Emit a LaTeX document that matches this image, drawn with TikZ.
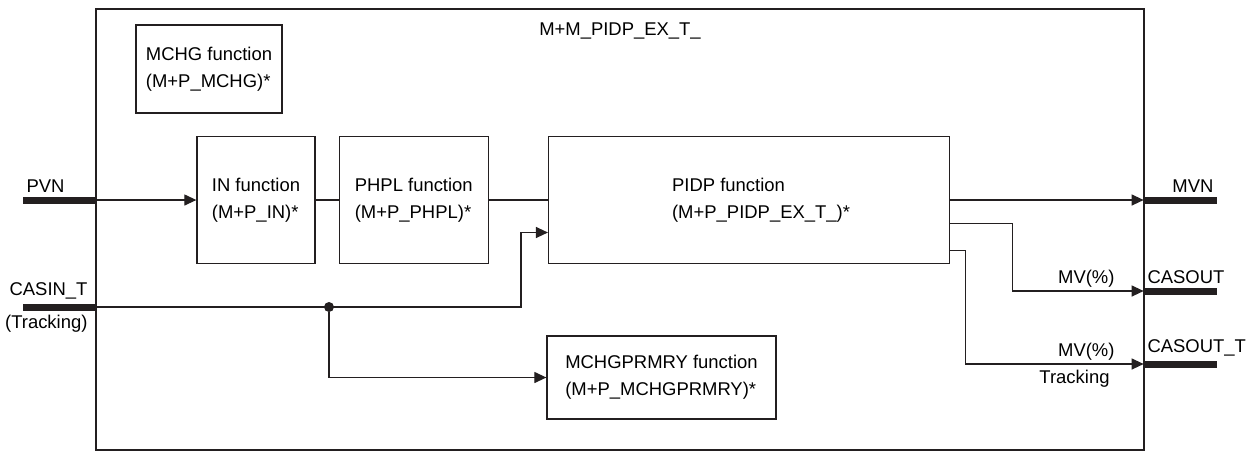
\documentclass[tikz,border=0pt]{standalone}
\usepackage{fontspec}
\setmainfont{Liberation Sans}
\usepackage{tikz}
\usetikzlibrary{arrows.meta,positioning}
\definecolor{Ink}{HTML}{231F20}

\begin{document}
\begin{tikzpicture}[
  x=0.02cm, y=-0.02cm,
  font=\fontsize{10.5}{15.4}\selectfont,
  frame/.style={draw=Ink, line width=0.9pt, minimum width=20.96cm, minimum height=8.82cm, inner sep=0},
  fn/.style={draw=Ink, line width=0.75pt, align=left, inner sep=0, minimum height=2.54cm},
  bus/.style={fill=Ink, minimum width=1.46cm, minimum height=1.4mm, inner sep=0},
  dot/.style={circle, fill=Ink, minimum size=2mm, inner sep=0},
  tag/.style={inner sep=2pt},
  wire/.style={draw=Ink, line width=0.7pt},
  arrow/.style={-{Triangle[length=2.4mm, width=2.2mm]}, line width=0.7pt, draw=Ink}
]
\useasboundingbox (0,0) rectangle (1254,451);

\node[frame] (blk) at (620,229.5) {};
\node (title) at (620,31) {M+M\_PIDP\_EX\_T\_};

\node[fn, minimum width=2.92cm, minimum height=1.76cm] (mchg) at (209,69) {MCHG function\\(M+P\_MCHG)*};
\node[fn, minimum width=2.36cm] (in) at (256,200) {IN function\\(M+P\_IN)*};
\node[fn, minimum width=2.98cm, right=0.46cm of in] (phpl) {PHPL function\\(M+P\_PHPL)*};
\node[fn, minimum width=8.02cm, right=1.18cm of phpl] (pidp)
  {\hspace*{0.48cm}PIDP function\\\hspace*{0.48cm}(M+P\_PIDP\_EX\_T\_)*};
\node[fn, minimum width=4.58cm, minimum height=1.66cm] (mchgp) at (661.5,377.5)
  {MCHGPRMRY function\\(M+P\_MCHGPRMRY)*};

\node[bus, label={[tag, anchor=south west]north west:PVN}] (pvn) at (59.5,200) {};
\node[bus, label={[tag, anchor=south east, xshift=-1mm]north east:CASIN\_T},
  label={[tag, anchor=north east, xshift=-1mm]south east:(Tracking)}] (casin) at (59.5,307) {};
\node[bus, label={[tag, anchor=south east]north east:MVN}] (mvn) at (1180.5,200) {};
\node[bus, label={[tag, anchor=south west]north west:CASOUT}] (casout) at (1180.5,291) {};
\node[bus, label={[tag, anchor=south west]north west:CASOUT\_T}] (casoutt) at (1180.5,364) {};
\node[dot] (split) at (329,307) {};

\draw[arrow] (pvn.east) -- (in.west);
\draw[wire] (in) -- (phpl);
\draw[wire] (phpl) -- (pidp);
\draw[arrow] (casin.east) -| ([xshift=-0.54cm, yshift=-0.65cm]pidp.west) -- ([yshift=-0.65cm]pidp.west);
\draw[arrow] (split) |- (mchgp.west);
\draw[arrow] (pidp.east) -- (mvn.west);
\draw[arrow] ([yshift=-0.47cm]pidp.east) -| ([xshift=-2.62cm]casout.west) -- (casout.west)
  node[tag, above left=0pt and 0.5cm] {MV(\%)};
\draw[arrow] ([yshift=-1.01cm]pidp.east) -| ([xshift=-3.56cm]casoutt.west) -- (casoutt.west)
  node[tag, above left=0pt and 0.5cm] {MV(\%)}
  node[tag, below left=1pt and 0.6cm] {Tracking};
\end{tikzpicture}
\end{document}
